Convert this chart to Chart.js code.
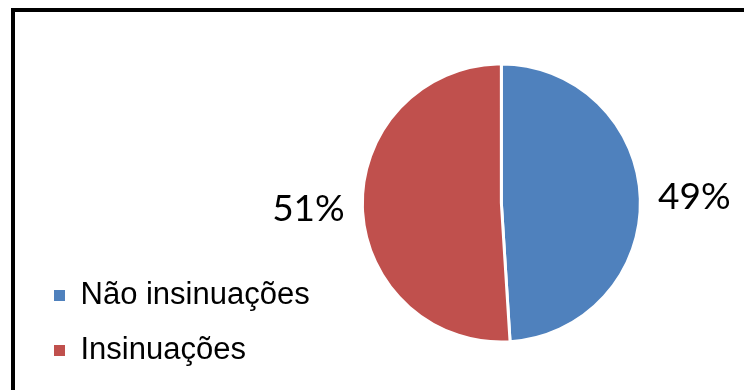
<!DOCTYPE html>
<html lang="pt">
<head>
<meta charset="utf-8">
<title>Insinuações</title>
<script src="https://cdn.jsdelivr.net/npm/chart.js@4.4.0/dist/chart.umd.min.js"></script>
<style>
    html, body { margin: 0; padding: 0; background: #ffffff; }
    #chart { display: block; }
</style>
</head>
<body>
<canvas id="chart" width="744" height="390"></canvas>
<script>
//Categorias e valores (%)
const categorias = ["Não insinuações", "Insinuações"];
const valores = [49, 51];
const cores = ["#4F81BD", "#C0504D"];

//Moldura preta em volta do gráfico
const moldura = {
    id: 'moldura',
    beforeDraw(chart) {
        const c = chart.ctx;
        c.save();
        c.fillStyle = '#ffffff';
        c.fillRect(0, 0, chart.width, chart.height);
        c.strokeStyle = '#000000';
        c.lineWidth = 4;
        c.strokeRect(13, 10, chart.width + 40, chart.height + 40);
        c.restore();
    }
};

//Rótulos de porcentagem fora das fatias
const rotulos = {
    id: 'rotulos',
    afterDatasetsDraw(chart) {
        const c = chart.ctx;
        const meta = chart.getDatasetMeta(0);
        c.save();
        c.font = '37px Lato';
        c.fillStyle = '#000000';
        c.textAlign = 'center';
        c.textBaseline = 'middle';
        meta.data.forEach((arc, i) => {
            const p = arc.getProps(['x', 'y', 'startAngle', 'endAngle', 'outerRadius']);
            const meio = (p.startAngle + p.endAngle) / 2;
            const dist = p.outerRadius + 54;
            c.fillText(valores[i] + '%', p.x + Math.cos(meio) * dist, p.y + Math.sin(meio) * dist);
        });
        c.restore();
    }
};

let ctx = document.getElementById('chart');

let chart = new Chart(ctx, {
    type: 'pie',
    data: {
        labels: categorias,
        datasets: [{
            data: valores,
            backgroundColor: cores,
            borderColor: '#ffffff',
            borderWidth: 3,
            radius: 139
        }]
    },
    options: {
        responsive: false,
        animation: false,
        layout: {
            padding: { left: 30, right: 61, top: 16, bottom: 0 }
        },
        plugins: {
            tooltip: { enabled: false },
            legend: {
                display: true,
                position: 'left',
                align: 'end',
                labels: {
                    boxWidth: 11,
                    boxHeight: 11,
                    padding: 24,
                    color: '#000000',
                    font: {
                        family: '"Liberation Sans", Arial, sans-serif',
                        size: 31
                    },
                    //Quadrado da legenda sem contorno branco
                    generateLabels(chart) {
                        const itens = Chart.controllers.pie.overrides.plugins.legend.labels.generateLabels(chart);
                        return itens.map(item => Object.assign(item, { lineWidth: 0 }));
                    }
                }
            }
        }
    },
    plugins: [moldura, rotulos]
});
</script>
</body>
</html>
